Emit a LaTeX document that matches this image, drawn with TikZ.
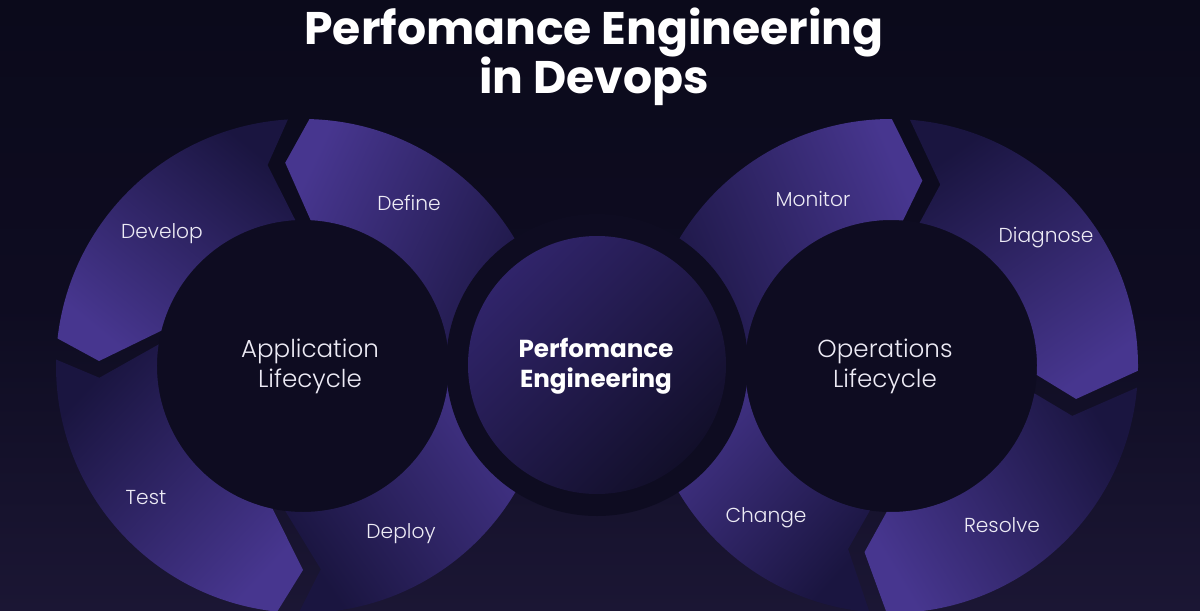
\documentclass[tikz,border=0pt]{standalone}
\usepackage{fontspec}
\setmainfont{Poppins}
\newfontfamily\lightfont{Poppins}[UprightFont={* Light}]
\definecolor{bgTop}{HTML}{0B0A1B}
\definecolor{bgMid}{HTML}{0E0C21}
\definecolor{bgBottom}{HTML}{1B1634}
\definecolor{holeDark}{HTML}{0E0C21}
\definecolor{segLight}{HTML}{47368F}
\definecolor{segDark}{HTML}{1A1540}
\definecolor{coreLight}{HTML}{30246A}
\definecolor{coreDark}{HTML}{120F2A}
\definecolor{labelWhite}{HTML}{EDEBF5}

\begin{document}
\begin{tikzpicture}[x=0.02cm, y=0.02cm, font=\lightfont\fontsize{11.5}{14}\selectfont,
  seg/.style={top color=segLight, bottom color=segDark, shading angle=#1},
  lbl/.style={text=labelWhite, align=center}]
  \useasboundingbox (0,0) rectangle (1200,610);
  \shade[top color=bgTop, bottom color=bgBottom, middle color=bgMid] (0,0) rectangle (1200,610);
  \coordinate (appC) at (303,244);
  \coordinate (opsC) at (891,244);
  \coordinate (coreC) at (597,245);
  \fill[holeDark] (appC) circle[radius=146];
  \fill[holeDark] (opsC) circle[radius=146];
  % application lifecycle ring
  \shade[seg=65, shift={(appC)}] (0:146) -- (0:247) arc[start angle=0, end angle=88.5, radius=247] -- (95:204) -- (87:146) arc[start angle=87, end angle=0, radius=146] -- cycle;
  \shade[seg=141, shift={(appC)}] (93:146) -- (100:204) -- (93.5:247) arc[start angle=93.5, end angle=173.6, radius=247] -- (178.6:204) -- (166:146) arc[start angle=166, end angle=93, radius=146] -- cycle;
  \shade[seg=227, shift={(appC)}] (171.5:146) -- (183.3:204) -- (178.5:247) arc[start angle=178.5, end angle=264, radius=247] -- (270:204) -- (258:146) arc[start angle=258, end angle=171.5, radius=146] -- cycle;
  \shade[seg=-55, shift={(appC)}] (263:146) -- (275:204) -- (269:247) arc[start angle=269, end angle=360, radius=247] -- (360:146) arc[start angle=360, end angle=263, radius=146] -- cycle;
  % operations lifecycle ring
  \shade[seg=-67, shift={(opsC)}] (180:146) -- (180:247) arc[start angle=180, end angle=89.8, radius=247] -- (80.4:188) -- (85.3:146) arc[start angle=85.3, end angle=180, radius=146] -- cycle;
  \shade[seg=215, shift={(opsC)}] (78.7:146) -- (74.8:188) -- (85.6:247) arc[start angle=85.6, end angle=-1.1, radius=247] -- (-10.1:188) -- (-3.5:146) arc[start angle=-3.5, end angle=78.7, radius=146] -- cycle;
  \shade[seg=121, shift={(opsC)}] (-10.8:146) -- (-15.4:188) -- (-5:247) arc[start angle=-5, end angle=-91, radius=247] -- (-98.1:188) -- (-91.7:146) arc[start angle=-91.7, end angle=-10.8, radius=146] -- cycle;
  \shade[seg=48, shift={(opsC)}] (-98.3:146) -- (-103.2:188) -- (-95:247) arc[start angle=-95, end angle=-180, radius=247] -- (-180:146) arc[start angle=-180, end angle=-98.3, radius=146] -- cycle;
  % core
  \fill[bgMid] (coreC) circle[radius=151];
  \shade[top color=coreLight, bottom color=coreDark, shading angle=45] (coreC) circle[radius=129];
  \node[font=\fontsize{26}{28}\selectfont\bfseries, text=white, align=center] (title) at (594,553) {Perfomance Engineering\\in Devops};
  \node[font=\fontsize{14}{17}\selectfont\bfseries, text=white, align=center] (coreText) at (596,244) {Perfomance\\Engineering};
  \node[lbl, font=\lightfont\fontsize{14}{17}\selectfont] (appText) at (310,244) {Application\\Lifecycle};
  \node[lbl, font=\lightfont\fontsize{14}{17}\selectfont] (opsText) at (885,244) {Operations\\Lifecycle};
  \node[lbl] (develop) at (162,376) {Develop};
  \node[lbl] (define) at (409,407) {Define};
  \node[lbl] (test) at (146,112) {Test};
  \node[lbl] (deploy) at (401,76) {Deploy};
  \node[lbl] (monitor) at (813,411) {Monitor};
  \node[lbl] (diagnose) at (1046,372) {Diagnose};
  \node[lbl] (change) at (766,92) {Change};
  \node[lbl] (resolve) at (1002,85) {Resolve};
\end{tikzpicture}
\end{document}
